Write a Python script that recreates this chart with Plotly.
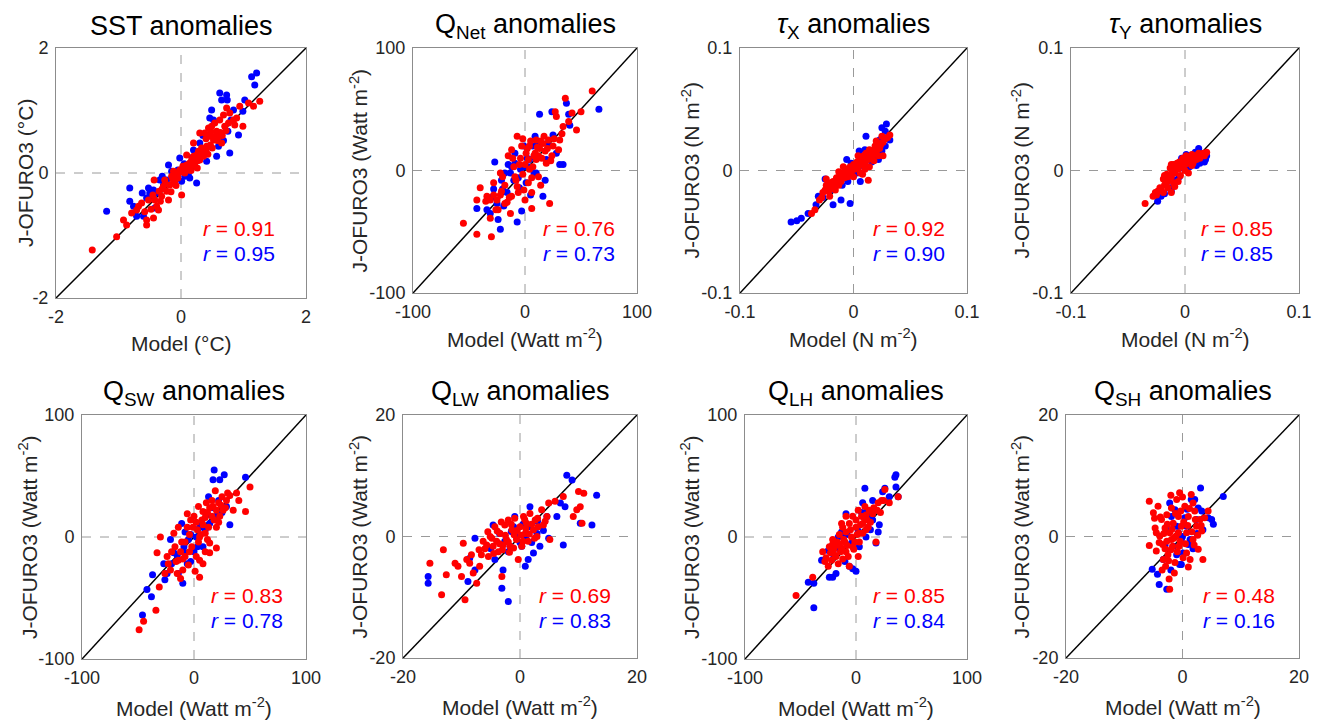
import plotly.graph_objects as go

W, H = 1320, 721
FONT = "Arial, Liberation Sans, Helvetica, sans-serif"

# ---------------- data (model, J-OFURO3) pairs ----------------
sst_red = [(-1.42,-1.23),(-1.03,-1.02),(-0.92,-0.75),(-0.87,-0.83),(-0.79,-0.64),(-0.71,-0.59),(-0.68,-0.53),(-0.63,-0.48),(-0.55,-0.83),(-0.55,-0.75),(-0.52,-0.43),(-0.44,-0.72),(-0.43,-0.11),(-0.42,-0.43),(-0.39,-0.53),(-0.36,-0.59),(-0.35,-0.29),(-0.31,-0.37),(-0.28,-0.21),(-0.26,-0.11),(-0.23,-0.29),(-0.20,-0.43),(-0.18,-0.19),(-0.15,-0.05),(-0.12,0.03),(-0.10,-0.13),(-0.07,-0.05),(-0.04,0.00),(-0.02,0.05),(0.01,-0.35),(0.03,0.11),(0.06,0.00),(0.09,0.13),(0.12,0.05),(0.14,0.16),(0.17,0.21),(0.20,0.27),(0.22,0.16),(0.25,0.29),(0.28,0.35),(0.30,0.21),(0.33,0.40),(0.36,0.27),(0.38,0.64),(0.41,0.43),(0.44,0.72),(0.46,0.59),(0.49,0.75),(0.52,0.53),(0.54,0.80),(0.57,0.67),(0.60,0.59),(0.62,0.85),(0.65,0.48),(0.68,0.93),(0.70,0.75),(0.73,1.04),(0.78,0.96),(0.84,0.85),(0.86,0.77),(0.89,0.88),(0.99,0.75),(1.08,1.12),(1.16,1.07),(1.26,1.15),(0.94,1.07),(0.30,0.64),(0.20,0.48),(0.09,0.29),
           (-0.30,-0.25),(-0.25,-0.17),(-0.13,-0.10),(-0.05,-0.08),(0.00,0.02),(0.05,0.08),(0.10,0.10),(0.15,0.10),(0.18,0.13),(0.23,0.22),(0.27,0.20),(0.32,0.30),(0.35,0.33),(0.40,0.36),(0.43,0.30),(0.47,0.45),(0.50,0.40),(0.55,0.58),(0.58,0.52),(0.63,0.65),(0.66,0.60),(0.72,0.68),(0.76,0.80),(0.48,0.66),(0.40,0.55),(-0.45,-0.35),(-0.48,-0.58),(-0.58,-0.62),(-0.33,-0.45),(-0.16,-0.30),(-0.08,-0.20),(0.16,0.04),(0.26,0.08)]
sst_blue = [(-1.19,-0.61),(-0.82,-0.45),(-0.82,-0.24),(-0.71,-0.69),(-0.76,-0.53),(-0.60,-0.69),(-0.52,-0.24),(-0.50,-0.32),(-0.47,-0.37),(-0.44,-0.27),(-0.42,-0.56),(-0.39,-0.32),(-0.34,-0.11),(-0.28,-0.19),(-0.23,-0.11),(-0.20,0.13),(-0.15,0.03),(-0.10,-0.03),(-0.02,0.24),(0.01,-0.13),(0.06,-0.05),(0.14,-0.08),(0.20,0.37),(0.22,0.11),(0.25,-0.16),(0.30,0.48),(0.41,0.19),(0.44,0.43),(0.46,0.88),(0.49,1.01),(0.60,0.43),(0.62,1.28),(0.65,1.17),(0.73,1.25),(0.74,1.17),(0.75,0.67),(0.78,0.32),(0.84,1.01),(0.92,0.61),(0.99,0.99),(1.02,1.17),(1.13,1.54),(1.18,1.41),(1.21,1.60),(0.57,0.27),(0.36,0.35),(0.09,0.00),
            (-0.55,-0.40),(-0.30,-0.05),(-0.05,0.05),(0.05,0.15),(0.12,0.00),(0.18,0.25),(0.35,0.60),(0.52,0.85),(0.68,0.52),(0.80,0.85),(-0.62,-0.32),(0.26,0.20)]

qnet_red = [(-55,-43),(-43,-24),(-43,-52),(-40,-14),(-34,-21),(-31,-24),(-30,-54),(-28,-20),(-31,-39),(-25,-24),(-24,-32),(-22,-2),(-21,-17),(-18,-12),(-16,-26),(-15,12),(-13,-35),(-12,17),(-10,3),(-9,-5),(-7,28),(-6,-18),(-4,10),(-3,20),(-2,26),(-1,-16),(0,-24),(1,14),(3,9),(4,20),(6,-18),(6,-31),(7,3),(9,14),(10,25),(12,-5),(13,18),(16,22),(18,16),(19,6),(21,25),(22,-27),(24,12),(25,20),(27,48),(28,44),(30,17),(31,25),(34,36),(36,59),(39,40),(42,47),(46,33),(50,48),(60,65),(10,9),(-7,-13),(4,1),(-12,-21),(12,12),
            (-35,-25),(-28,-10),(-20,-5),(-14,-22),(-8,-8),(-5,5),(-2,-3),(0,5),(2,18),(5,24),(8,12),(11,19),(14,24),(15,10),(17,28),(20,18),(23,8),(-18,-27),(-26,-32),(-11,10),(6,-6),(14,-12),(3,-10),(-22,-20),(26,26),(33,30)]
qnet_blue = [(-43,-31),(-34,-32),(-31,-35),(-27,7),(-25,-27),(-24,-40),(-22,-48),(-21,-8),(-19,-29),(-18,-2),(-16,-18),(-13,-2),(-12,3),(-10,-8),(-9,6),(-7,-42),(-6,-6),(-4,1),(-3,-33),(-1,20),(1,-10),(3,3),(4,9),(7,20),(9,28),(10,-2),(13,46),(16,-21),(18,-8),(19,9),(24,48),(25,29),(31,5),(34,5),(37,55),(39,46),(40,37),(66,50),(0,3),(-9,14),
             (-30,-22),(-20,-15),(-15,5),(-5,-14),(2,10),(8,-2),(12,22),(20,22),(28,14),(-28,-15),(5,-20)]

taux_red = [(-0.037,-0.035),(-0.034,-0.032),(-0.027,-0.018),(-0.025,-0.016),(-0.024,-0.012),(-0.021,-0.021),(-0.019,-0.013),(-0.018,-0.009),(-0.016,-0.016),(-0.015,-0.006),(-0.013,-0.012),(-0.012,-0.003),(-0.011,-0.009),(-0.009,-0.002),(-0.008,-0.006),(-0.006,0.001),(-0.005,-0.005),(-0.003,0.003),(-0.002,-0.002),(0.000,0.005),(0.001,0.001),(0.003,0.007),(0.004,0.002),(0.006,0.009),(0.007,0.005),(0.009,0.012),(0.010,0.006),(0.011,0.014),(0.013,0.009),(0.014,0.017),(0.016,0.012),(0.017,0.016),(0.019,0.020),(0.020,0.014),(0.022,0.022),(0.023,0.018),(0.025,0.028),(0.026,0.012),(0.032,0.029),(0.026,0.023),(0.014,0.003),(0.013,-0.008),(0.006,-0.002),(-0.009,0.003),(-0.024,-0.007),(0.000,-0.005),(0.010,0.001),
            (-0.030,-0.024),(-0.028,-0.022),(-0.022,-0.017),(-0.020,-0.015),(-0.017,-0.011),(-0.014,-0.009),(-0.010,-0.006),(-0.007,-0.003),(-0.004,-0.001),(-0.001,0.002),(0.002,0.003),(0.005,0.006),(0.008,0.007),(0.012,0.010),(0.015,0.015),(0.018,0.013),(0.021,0.018),(0.024,0.021),(0.028,0.026),(0.030,0.027),(0.018,0.008),(0.020,0.024),(0.004,0.012),(-0.013,-0.001),(-0.020,-0.010),(0.008,-0.003),(0.022,0.012)]
taux_blue = [(-0.055,-0.042),(-0.050,-0.041),(-0.046,-0.039),(-0.040,-0.035),(-0.033,-0.028),(-0.031,-0.021),(-0.027,-0.022),(-0.025,-0.007),(-0.018,-0.028),(-0.016,-0.012),(-0.012,-0.006),(-0.011,-0.024),(-0.008,-0.002),(-0.005,-0.009),(-0.003,-0.027),(-0.002,0.006),(0.003,-0.002),(0.006,-0.009),(0.010,0.017),(0.011,0.028),(0.017,0.012),(0.022,0.009),(0.023,0.025),(0.025,0.035),(0.028,0.032),(0.029,0.038),(0.032,0.025),(0.025,0.016),(0.006,0.012),(-0.006,0.009),(0.016,0.007),
             (-0.020,-0.016),(-0.010,-0.012),(0.000,-0.004),(0.008,0.004),(0.014,0.010),(0.020,0.017),(0.028,0.020),(-0.022,-0.012),(0.005,0.016)]

tauy_red = [(-0.035,-0.027),(-0.026,-0.018),(-0.024,-0.017),(-0.022,-0.014),(-0.019,-0.007),(-0.018,-0.012),(-0.016,-0.003),(-0.015,-0.009),(-0.013,0.002),(-0.012,-0.005),(-0.010,0.005),(-0.009,-0.002),(-0.007,0.006),(-0.006,0.001),(-0.005,0.007),(-0.003,0.003),(-0.002,0.010),(0.000,0.005),(0.001,0.012),(0.003,0.006),(0.004,0.009),(0.006,0.013),(0.007,0.006),(0.009,0.012),(0.010,0.009),(0.012,0.014),(0.013,0.010),(0.016,0.014),(0.017,0.012),(0.019,0.015),(-0.009,-0.013),(-0.006,-0.009),(-0.012,-0.018),(0.003,-0.002),(-0.019,-0.018),
            (-0.028,-0.021),(-0.025,-0.020),(-0.021,-0.016),(-0.017,-0.010),(-0.014,-0.006),(-0.011,-0.001),(-0.008,0.002),(-0.004,0.004),(-0.001,0.007),(0.002,0.009),(0.005,0.010),(0.008,0.011),(0.011,0.011),(0.014,0.012),(0.018,0.014),(-0.015,-0.014),(-0.010,-0.010),(-0.004,-0.004),(0.000,0.000),(0.006,0.004),(-0.018,-0.004),(-0.012,0.005)]
tauy_blue = [(-0.024,-0.025),(-0.021,-0.021),(-0.013,-0.014),(-0.012,-0.017),(-0.005,-0.005),(0.001,0.013),(0.004,0.012),(0.007,0.009),(0.012,0.018),(0.013,0.014),(0.016,0.009),(0.017,0.007),(0.019,0.012),(0.004,0.003),(-0.002,0.002),(0.013,0.006),(-0.009,-0.002),
             (-0.018,-0.019),(-0.008,-0.008),(-0.003,0.010),(0.009,0.015),(0.015,0.012),(0.010,0.004),(0.018,0.009),(0.002,0.007)]

qsw_red = [(-49,-76),(-45,-69),(-34,-60),(-31,-41),(-33,-13),(-30,0),(-26,-30),(-24,-16),(-23,-22),(-21,-27),(-18,3),(-17,-8),(-15,-30),(-14,-19),(-12,-34),(-11,-4),(-10,-27),(-8,-16),(-6,8),(-5,-23),(-3,14),(-2,-8),(0,17),(1,-28),(3,6),(4,25),(5,-19),(5,-33),(7,14),(8,21),(10,3),(11,28),(13,8),(14,-5),(16,17),(17,25),(19,38),(20,8),(22,28),(23,17),(25,33),(26,22),(29,30),(32,34),(35,22),(38,36),(40,30),(46,21),(50,41),(14,-13),(10,-12),(20,-9),(-6,19),(5,0),
           (-20,-12),(-16,-20),(-12,-12),(-8,-4),(-4,2),(-1,8),(2,12),(4,-4),(6,2),(8,10),(10,16),(12,20),(14,24),(16,30),(18,14),(20,22),(22,12),(24,26),(28,24),(30,36),(-10,-18),(-4,-12),(2,-16),(8,-22),(12,-2),(-14,8)]
qsw_blue = [(-46,-64),(-42,-43),(-38,-49),(-37,-31),(-27,-22),(-26,-35),(-24,-30),(-21,-2),(-18,-13),(-14,-30),(-11,11),(-10,-38),(-9,-8),(-8,-13),(-6,-22),(-5,-2),(-3,2),(0,-12),(3,-8),(5,8),(8,-8),(11,18),(13,33),(17,47),(18,55),(23,47),(27,51),(29,25),(32,10),(46,49),(20,17),(14,11),
            (-15,-15),(-3,-20),(2,0),(7,12),(10,6),(16,24),(22,30),(25,20),(-20,-22),(-8,4)]

qlw_red = [(-15.4,-4.4),(-13.4,-9.6),(-13.1,-2.2),(-12.6,-6.3),(-11.1,-4.4),(-10.6,-4.9),(-10.0,-6.6),(-9.7,-1.1),(-9.4,-10.4),(-9.1,-3.8),(-8.6,-4.4),(-8.3,-3.0),(-8.0,-6.0),(-7.4,-7.7),(-6.9,-4.9),(-6.6,-3.0),(-6.3,-0.8),(-5.7,-1.4),(-5.4,-3.3),(-5.1,0.0),(-4.6,-1.6),(-4.3,1.6),(-4.0,-0.8),(-3.7,-2.5),(-3.4,0.5),(-3.1,-6.6),(-2.9,-1.4),(-2.6,1.9),(-2.3,-0.5),(-2.0,2.7),(-1.7,-1.6),(-1.4,1.1),(-1.1,-1.9),(-0.9,3.0),(-0.6,-0.5),(-0.3,-3.8),(0.0,1.6),(0.3,-1.6),(0.6,3.3),(0.9,0.5),(1.1,2.2),(1.4,-0.8),(1.7,3.8),(2.3,1.1),(2.6,2.7),(3.1,1.6),(3.7,4.4),(4.0,1.9),(4.9,5.5),(5.1,-0.5),(6.0,5.8),(7.4,6.6),(9.1,3.3),(9.7,4.4),(10.0,7.4),(10.3,4.9),(10.9,7.1),(10.6,2.2),(4.6,3.3),(2.9,0.0),
           (-6.0,-2.0),(-5.5,0.8),(-4.8,-0.3),(-4.5,-2.8),(-3.9,0.9),(-3.5,-1.2),(-3.0,-2.2),(-2.5,0.2),(-2.0,-0.9),(-1.5,2.0),(-1.0,0.3),(-0.5,1.0),(0.2,0.2),(0.5,-0.8),(1.0,1.3),(1.6,0.4),(2.0,2.0),(2.5,-0.3),(3.0,3.0),(-7.0,-2.2),(-3.2,2.4),(0.8,2.8),(4.3,2.5),(-1.8,-2.6)]
qlw_blue = [(-15.7,-6.6),(-15.7,-7.7),(-8.9,-7.4),(-8.6,-3.6),(-7.7,-0.3),(-7.7,-5.5),(-4.6,1.9),(-4.3,-3.8),(-3.1,-8.5),(-2.9,-5.5),(-2.6,-0.8),(-2.0,-10.7),(-1.1,1.6),(-0.9,3.3),(-0.6,0.0),(0.3,-1.6),(0.9,-4.9),(1.4,-3.8),(1.7,4.9),(2.3,-2.7),(2.9,0.5),(3.4,-1.6),(4.6,3.3),(4.9,-0.3),(6.3,3.3),(6.9,5.5),(7.4,-1.4),(7.7,4.9),(8.0,10.1),(8.9,9.3),(10.3,2.2),(12.3,1.9),(13.1,6.8),(1.7,1.6),(-1.7,-1.6),
            (-3.5,0.5),(-2.0,-2.5),(-1.5,0.8),(0.0,-1.0),(0.5,2.0),(1.0,0.0),(2.0,-1.0),(3.0,2.5),(4.0,1.0),(-5.0,-2.0)]

qlh_red = [(-54,-48),(-39,-33),(-30,-12),(-27,-17),(-25,-24),(-24,-8),(-22,-19),(-21,-2),(-19,-15),(-18,-7),(-16,-22),(-15,2),(-13,-9),(-12,8),(-10,-4),(-9,4),(-7,-16),(-6,11),(-4,0),(-3,17),(-1,-4),(0,8),(2,22),(3,3),(5,17),(6,11),(8,25),(9,18),(11,8),(12,22),(15,19),(18,-4),(20,28),(23,30),(26,39),(30,28),(38,33),(2,-16),(-6,-24),(-9,17),(-13,11),(6,3),
           (-28,-20),(-23,-13),(-20,-10),(-17,-4),(-14,-12),(-11,-2),(-8,-7),(-5,6),(-2,-10),(1,2),(4,10),(7,16),(10,14),(13,12),(16,24),(19,22),(22,20),(-12,-18),(-18,-16),(-3,-8),(0,14),(3,-4),(-9,-12),(-15,-6),(9,6),(25,30),(-21,-6)]
qlh_blue = [(-43,-37),(-38,-38),(-38,-58),(-31,-19),(-25,-11),(-24,-33),(-21,-33),(-18,-30),(-13,4),(-12,3),(-9,19),(-6,-24),(-3,-26),(0,-28),(3,-8),(6,28),(8,40),(9,0),(12,17),(15,30),(18,-5),(20,4),(21,10),(24,37),(26,40),(30,33),(35,49),(36,51),(38,33),(36,41),(15,14),
            (-20,-15),(-15,-10),(-8,2),(-4,-5),(2,5),(5,20),(10,22),(13,6),(-10,-20),(-16,0)]

qsh_red = [(-5.7,5.8),(-5.7,-1.5),(-5.0,3.9),(-4.7,1.4),(-4.5,-2.4),(-4.2,5.0),(-3.9,0.1),(-3.6,2.8),(-3.4,-1.3),(-3.3,-3.8),(-3.0,1.4),(-2.9,-4.9),(-2.7,3.6),(-2.5,-3.0),(-2.3,-7.0),(-2.2,0.6),(-2.2,-8.7),(-1.9,4.7),(-1.7,-1.6),(-1.6,2.2),(-1.3,-4.3),(-1.1,0.1),(-1.0,6.1),(-0.7,3.3),(-0.6,-1.6),(-0.5,7.2),(-0.2,1.7),(0.1,-3.5),(0.4,5.0),(0.7,0.6),(1.0,3.3),(1.3,-3.8),(1.5,6.9),(1.8,-0.5),(2.1,4.2),(2.4,1.7),(2.7,-2.1),(3.0,2.8),(3.3,0.9),(3.5,-3.8),(3.8,3.1),(4.4,4.2),(1.8,5.5),(0.7,-2.7),(-1.9,-0.5),(-2.7,-0.8),(-4.5,0.6),(-0.7,0.6),
           (-4.0,-1.0),(-3.8,3.2),(-3.2,0.5),(-3.0,-2.0),(-2.6,2.0),(-2.4,-4.0),(-2.0,-2.2),(-1.8,1.2),(-1.5,-0.3),(-1.2,3.8),(-0.9,-2.5),(-0.4,-0.8),(-0.3,4.2),(0.2,2.4),(0.5,-1.2),(0.9,1.8),(1.2,4.6),(1.6,0.8),(2.0,-1.4),(2.2,2.8),(2.6,0.2),(3.2,1.8),(-3.5,-5.5),(-1.4,-6.0),(0.0,6.5),(-2.0,6.8),(1.0,-5.0),(-4.8,3.0)]
qsh_blue = [(-5.2,-5.4),(-4.3,-6.2),(-4.0,-7.9),(-3.3,-3.8),(-2.7,-8.7),(-2.2,5.5),(-1.9,3.3),(-1.6,-1.6),(-1.3,4.4),(-0.7,0.6),(-0.5,-4.6),(-0.2,-4.6),(0.1,-2.7),(0.4,3.1),(1.0,-1.3),(1.3,-0.5),(1.5,6.1),(2.1,6.1),(2.4,2.8),(2.7,4.7),(3.1,8.0),(3.3,4.2),(3.5,1.1),(4.4,3.1),(5.0,2.8),(5.3,2.0),(7.0,6.6),(0.7,1.7),(-1.0,1.7),(-0.2,-0.5),
            (-3.0,-1.5),(-2.5,1.0),(-1.0,-3.0),(0.0,0.0),(0.8,4.5),(1.8,-2.0),(2.5,0.5),(-2.0,-5.5)]

titles = ["SST anomalies", "Q<sub>Net</sub> anomalies", "<i>τ</i><sub>X</sub> anomalies", "<i>τ</i><sub>Y</sub> anomalies",
          "Q<sub>SW</sub> anomalies", "Q<sub>LW</sub> anomalies", "Q<sub>LH</sub> anomalies", "Q<sub>SH</sub> anomalies"]
limits = [2, 100, 0.1, 0.1, 100, 20, 100, 20]
tick_labels = [["-2", "0", "2"], ["-100", "0", "100"], ["-0.1", "0", "0.1"], ["-0.1", "0", "0.1"],
               ["-100", "0", "100"], ["-20", "0", "20"], ["-100", "0", "100"], ["-20", "0", "20"]]
units = ["(°C)", "(Watt m<sup>-2</sup>)", "(N m<sup>-2</sup>)", "(N m<sup>-2</sup>)",
         "(Watt m<sup>-2</sup>)", "(Watt m<sup>-2</sup>)", "(Watt m<sup>-2</sup>)", "(Watt m<sup>-2</sup>)"]
r_red = ["0.91", "0.76", "0.92", "0.85", "0.83", "0.69", "0.85", "0.48"]
r_blue = ["0.95", "0.73", "0.90", "0.85", "0.78", "0.83", "0.84", "0.16"]
red_sets = [sst_red, qnet_red, taux_red, tauy_red, qsw_red, qlw_red, qlh_red, qsh_red]
blue_sets = [sst_blue, qnet_blue, taux_blue, tauy_blue, qsw_blue, qlw_blue, qlh_blue, qsh_blue]

# ---------------- layout geometry (pixels) ----------------
boxes = [(56, 306, 48, 298), (413, 637, 48, 293), (740, 967, 48, 293), (1071, 1299, 48, 293),
         (82, 306, 415, 659), (403, 637, 415, 658), (745, 967, 415, 659), (1066, 1299, 415, 658)]
ytitle_x = [25, 358, 690, 1020, 28, 358, 690, 1020]
xtitle_off = [45, 45, 45, 45, 48, 48, 48, 48]
r_right_off = [29, 20, 20, 24, 21, 24, 20, 22]

def px(x):
    return x / W

def py(y):
    return 1 - y / H

fig = go.Figure()
layout = dict(width=W, height=H, margin=dict(l=0, r=0, t=0, b=0, autoexpand=False), showlegend=False,
              plot_bgcolor="white", paper_bgcolor="white", font=dict(family=FONT, color="#262626"))
annotations = []
RED, BLUE = "#ff0000", "#0000ff"
GRID = "#9a9a9a"

for i in range(8):
    n = "" if i == 0 else str(i + 1)
    xa, ya = "x" + n, "y" + n
    L = limits[i]
    x0, x1, y0, y1 = boxes[i]
    axis_common = dict(range=[-L, L], showgrid=False, zeroline=False, showline=True, mirror=True,
                       linecolor="#8c8c8c", linewidth=1, ticks="", tickvals=[-L, 0, L],
                       ticktext=tick_labels[i], tickfont=dict(size=18, color="#262626", family=FONT),
                       fixedrange=True, automargin=False)
    layout["xaxis" + n] = dict(axis_common, domain=[px(x0), px(x1)], anchor=ya, ticklabelstandoff=2)
    layout["yaxis" + n] = dict(axis_common, domain=[py(y1), py(y0)], anchor=xa, ticklabelstandoff=3)

    # dashed zero lines
    fig.add_trace(go.Scatter(x=[-L, L], y=[0, 0], mode="lines", xaxis=xa, yaxis=ya,
                             line=dict(color=GRID, width=1, dash="dash"), hoverinfo="skip"))
    fig.add_trace(go.Scatter(x=[0, 0], y=[-L, L], mode="lines", xaxis=xa, yaxis=ya,
                             line=dict(color=GRID, width=1, dash="dash"), hoverinfo="skip"))
    # 1:1 line
    fig.add_trace(go.Scatter(x=[-L, L], y=[-L, L], mode="lines", xaxis=xa, yaxis=ya,
                             line=dict(color="black", width=1.5), hoverinfo="skip"))
    # scatter points
    bx, by = zip(*blue_sets[i])
    rx, ry = zip(*red_sets[i])
    fig.add_trace(go.Scatter(x=bx, y=by, mode="markers", xaxis=xa, yaxis=ya,
                             marker=dict(color=BLUE, size=7, line=dict(width=0))))
    fig.add_trace(go.Scatter(x=rx, y=ry, mode="markers", xaxis=xa, yaxis=ya,
                             marker=dict(color=RED, size=7, line=dict(width=0))))

    cx = (x0 + x1) / 2
    # panel title
    annotations.append(dict(text=titles[i], x=px(cx), y=py(y0 - 22), xref="paper", yref="paper",
                            showarrow=False, font=dict(size=27, color="black", family=FONT),
                            xanchor="center", yanchor="middle"))
    # x axis title
    annotations.append(dict(text="Model " + units[i], x=px(cx), y=py(y1 + xtitle_off[i]), xref="paper",
                            yref="paper", showarrow=False, font=dict(size=21, color="#262626", family=FONT),
                            xanchor="center", yanchor="middle"))
    # y axis title
    annotations.append(dict(text="J-OFURO3 " + units[i], x=px(ytitle_x[i]), y=py((y0 + y1) / 2),
                            xref="paper", yref="paper", showarrow=False, textangle=-90,
                            font=dict(size=21, color="#262626", family=FONT),
                            xanchor="center", yanchor="middle"))
    # r values
    rx_pos = px(x1 - r_right_off[i])
    annotations.append(dict(text="<i>r</i> = " + r_red[i], x=rx_pos, y=py(y0 + 180), xref="paper",
                            yref="paper", showarrow=False, font=dict(size=21, color=RED, family=FONT),
                            xanchor="right", yanchor="middle"))
    annotations.append(dict(text="<i>r</i> = " + r_blue[i], x=rx_pos, y=py(y0 + 205), xref="paper",
                            yref="paper", showarrow=False, font=dict(size=21, color=BLUE, family=FONT),
                            xanchor="right", yanchor="middle"))

layout["annotations"] = annotations
fig.update_layout(**layout)
fig.write_html("out.html", config={"displayModeBar": False},
               post_script="document.body.style.margin='0';document.body.style.overflow='hidden';")
